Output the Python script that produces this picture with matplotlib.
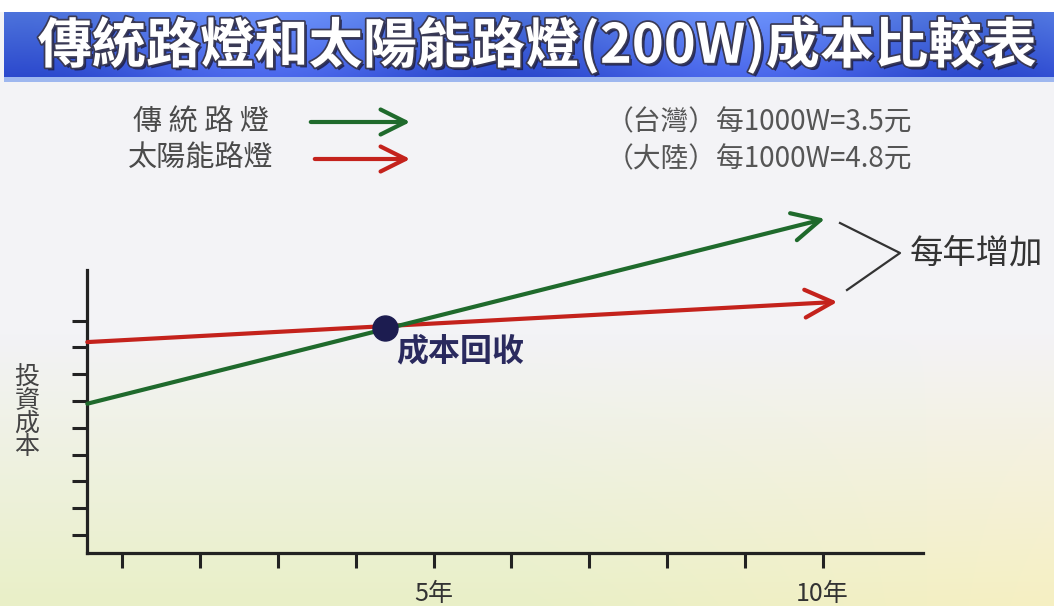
import numpy as np
import matplotlib
matplotlib.use("Agg")
import matplotlib.pyplot as plt
import matplotlib.patheffects as pe

plt.rcParams["font.family"] = ["Noto Sans CJK TC", "DejaVu Sans"]

# --- dane ---
title = "傳統路燈和太陽能路燈(200W)成本比較表"
series_names = ["傳 統 路 燈", "太陽能路燈"]
price_notes = ["（台灣）每1000W=3.5元", "（大陸）每1000W=4.8元"]
years_traditional = [0.55, 10.03]
cost_traditional = [5.9, 12.8]
years_solar = [0.55, 10.19]
cost_solar = [8.2, 9.7]
breakeven_year = 4.38
breakeven_cost = 8.72
x_ticks = list(range(1, 11))
x_tick_labels = ["", "", "", "", "5年", "", "", "", "", "10年"]
y_ticks = list(range(1, 10))

GREEN = "#1f6a2c"
RED = "#c4221c"
AXC = "#222222"

W, H = 1054, 606
fig = plt.figure(figsize=(W / 100, H / 100), dpi=100)

# --- tło (piksele) ---
bg = fig.add_axes([0, 0, 1, 1])
bg.set_xlim(0, W)
bg.set_ylim(H, 0)
bg.axis("off")

img = np.ones((H, W, 3))
yy = np.arange(H)[:, None] / H
xx = np.arange(W)[None, :] / W
top = np.array([0.953, 0.953, 0.965])
bottom = np.array([0.915, 0.94, 0.78])
t = np.clip((yy - 0.55) / 0.45, 0, 1)[..., None]
warm = np.clip((xx - 0.5) / 0.5, 0, 1)[..., None] * t * np.array([0.05, 0.0, -0.02])
img[:] = top * (1 - t) + bottom * t + warm
img[:12] = 1.0
# niebieski pasek tytułu
b0, b1 = 12, 82
by = ((np.arange(b0, b1) - b0) / (b1 - b0))[:, None, None]
streak = (0.5 + 0.5 * np.cos(2 * np.pi * (xx[..., None] - 0.25) * 2.2)) * 0.12
c_top = np.array([0.30, 0.45, 0.86])
c_bot = np.array([0.16, 0.27, 0.80])
band = c_top * (1 - by) + c_bot * by + streak
band[-5:] = np.array([0.62, 0.72, 0.94])
img[b0:b1, 4:] = np.clip(band[:, 4:], 0, 1)
bg.imshow(np.clip(img, 0, 1), extent=(0, W, H, 0), aspect="auto", zorder=0)

bg.text(537, 46, title, ha="center", va="center", color="white",
        fontsize=39, fontweight="bold", zorder=3,
        path_effects=[pe.withSimplePatchShadow(offset=(2, -2), shadow_rgbFace="#1a1a40", alpha=0.8),
                      pe.Stroke(linewidth=2.5, foreground="#3a3a55"), pe.Normal()])

# legenda
legend_y = [122, 159]
legend_col = [GREEN, RED]
legend_x0 = [308, 312]
for name, ly, c, x0 in zip(series_names, legend_y, legend_col, legend_x0):
    bg.text(201, ly, name, ha="center", va="center", fontsize=21, color="#4a4a4a")
    bg.annotate("", xy=(413, ly), xytext=(x0, ly),
                arrowprops=dict(arrowstyle="->,head_length=0.9,head_width=0.45",
                                lw=3, color=c, mutation_scale=20))
for note, ly in zip(price_notes, legend_y):
    bg.text(606, ly, note, ha="left", va="center", fontsize=20, color="#555555")

# nawias "每年增加"
bg.plot([840, 900, 847], [223, 253, 290], color="#333333", lw=1.6)
bg.text(910, 253, "每年增加", ha="left", va="center", fontsize=24, color="#333333")

# etykieta osi Y
bg.text(27, 412, "投\n資\n成\n本", ha="center", va="center", fontsize=18,
        color="#444444", linespacing=0.85)

# --- wykres ---
ax = fig.add_axes([87 / W, (H - 553) / H, (923 - 87) / W, (553 - 270) / H])
ax.patch.set_alpha(0)
ax.set_xlim(0.546, 11.29)
ax.set_ylim(0.328, 10.89)
for s in ("top", "right"):
    ax.spines[s].set_visible(False)
for s in ("left", "bottom"):
    ax.spines[s].set_linewidth(2.3)
    ax.spines[s].set_color(AXC)
ax.set_xticks(x_ticks)
ax.set_xticklabels(x_tick_labels, fontsize=18, color="#333333")
ax.set_yticks(y_ticks)
ax.set_yticklabels([])
ax.tick_params(direction="out", length=11, width=2.2, color=AXC)
ax.tick_params(axis="x", pad=9)

ax.annotate("", xy=(years_solar[1], cost_solar[1]), xytext=(years_solar[0], cost_solar[0]),
            annotation_clip=False,
            arrowprops=dict(arrowstyle="->,head_length=1.0,head_width=0.5",
                            lw=3, color=RED, mutation_scale=20, shrinkA=0, shrinkB=0))
ax.annotate("", xy=(years_traditional[1], cost_traditional[1]),
            xytext=(years_traditional[0], cost_traditional[0]),
            annotation_clip=False,
            arrowprops=dict(arrowstyle="->,head_length=1.0,head_width=0.5",
                            lw=3, color=GREEN, mutation_scale=20, shrinkA=0, shrinkB=0))
ax.plot([breakeven_year], [breakeven_cost], "o", ms=18, color="#1c1c50", clip_on=False, zorder=5)
ax.text(breakeven_year + 0.14, breakeven_cost - 0.85, "成本回收", ha="left", va="center",
        fontsize=23, color="#2a2a5e", fontweight="bold")

fig.savefig("out.png", dpi=100)
